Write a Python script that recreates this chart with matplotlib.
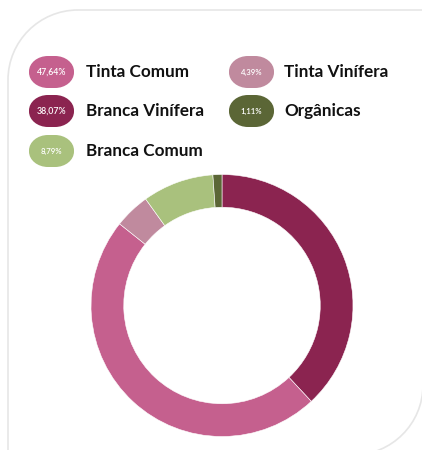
import matplotlib
matplotlib.use("Agg")
import matplotlib.pyplot as plt
from matplotlib.patches import PathPatch
from matplotlib.path import Path

# Data (clockwise from 12 o'clock)
categories = ["Branca Vinífera", "Tinta Comum", "Tinta Vinífera", "Branca Comum", "Orgânicas"]
values = [38.07, 47.64, 4.39, 8.79, 1.11]
colors = ["#8B2450", "#C5608E", "#C08A9E", "#A9C17D", "#5B6636"]

# Legend order (row-major, two columns)
legend_order = ["Tinta Comum", "Tinta Vinífera", "Branca Vinífera", "Orgânicas", "Branca Comum"]

W, H = 422, 450
fig = plt.figure(figsize=(W / 100, H / 100), dpi=100)
fig.patch.set_facecolor("white")

bg = fig.add_axes([0, 0, 1, 1])
bg.set_xlim(0, W)
bg.set_ylim(H, 0)
bg.axis("off")

k = 0.5523

# Card outline: rounded top-left and bottom-right corners
r = 70
L, T, R, B = 8, 10, 423, 455
verts = [
    (R + 5, T), (L + r, T),
    (L + r - r * k, T), (L, T + r - r * k), (L, T + r),
    (L, B + 5),
]
codes = [Path.MOVETO, Path.LINETO, Path.CURVE4, Path.CURVE4, Path.CURVE4, Path.LINETO]
bg.add_patch(PathPatch(Path(verts, codes), fill=False, edgecolor="#E6E6E6", lw=1.2))
verts2 = [(R, T - 5), (R, B - r), (R, B - r + r * k), (R - r + r * k, B), (R - r, B)]
codes2 = [Path.MOVETO, Path.LINETO, Path.CURVE4, Path.CURVE4, Path.CURVE4]
bg.add_patch(PathPatch(Path(verts2, codes2), fill=False, edgecolor="#E6E6E6", lw=1.2))


def pill(x0, y0, w, h, rx, ry, color):
    x1, y1 = x0 + w, y0 + h
    v = [
        (x0 + rx, y0), (x1 - rx, y0),
        (x1 - rx + rx * k, y0), (x1, y0 + ry - ry * k), (x1, y0 + ry),
        (x1, y1 - ry),
        (x1, y1 - ry + ry * k), (x1 - rx + rx * k, y1), (x1 - rx, y1),
        (x0 + rx, y1),
        (x0 + rx - rx * k, y1), (x0, y1 - ry + ry * k), (x0, y1 - ry),
        (x0, y0 + ry),
        (x0, y0 + ry - ry * k), (x0 + rx - rx * k, y0), (x0 + rx, y0),
        (x0 + rx, y0),
    ]
    c = [Path.MOVETO, Path.LINETO,
         Path.CURVE4, Path.CURVE4, Path.CURVE4,
         Path.LINETO,
         Path.CURVE4, Path.CURVE4, Path.CURVE4,
         Path.LINETO,
         Path.CURVE4, Path.CURVE4, Path.CURVE4,
         Path.LINETO,
         Path.CURVE4, Path.CURVE4, Path.CURVE4,
         Path.CLOSEPOLY]
    bg.add_patch(PathPatch(Path(v, c), facecolor=color, edgecolor="none"))


# Legend
font = ["Lato", "DejaVu Sans"]
row_y = [72, 111, 151]
col_pill_x = [29, 229]
col_text_x = [86, 284]
pill_w, pill_h = 45, 32
cmap = dict(zip(categories, colors))
vmap = dict(zip(categories, values))
for i, name in enumerate(legend_order):
    row, col = divmod(i, 2)
    cy = row_y[row]
    px = col_pill_x[col]
    pill(px, cy - pill_h / 2, pill_w, pill_h, 19, 15.5, cmap[name])
    lbl = f"{vmap[name]:.2f}%".replace(".", ",")
    bg.text(px + pill_w / 2, cy, lbl, color="white", fontsize=6.3 if vmap[name] >= 10 else 5.6,
            ha="center", va="center", family=font, fontweight="semibold")
    bg.text(col_text_x[col], cy, name, color="#111111", fontsize=12.3, ha="left", va="center",
            family=font, fontweight="bold")

# Donut
cx, cy, rad = 222, 305.5, 131
ax = fig.add_axes([(cx - rad) / W, (H - cy - rad) / H, 2 * rad / W, 2 * rad / H])
ax.pie(values, colors=colors, startangle=90, counterclock=False, radius=1,
       wedgeprops=dict(width=0.25, edgecolor="white", linewidth=0.4))
ax.set_xlim(-1, 1)
ax.set_ylim(-1, 1)
ax.axis("off")

fig.savefig("out.png", dpi=100, facecolor="white")
